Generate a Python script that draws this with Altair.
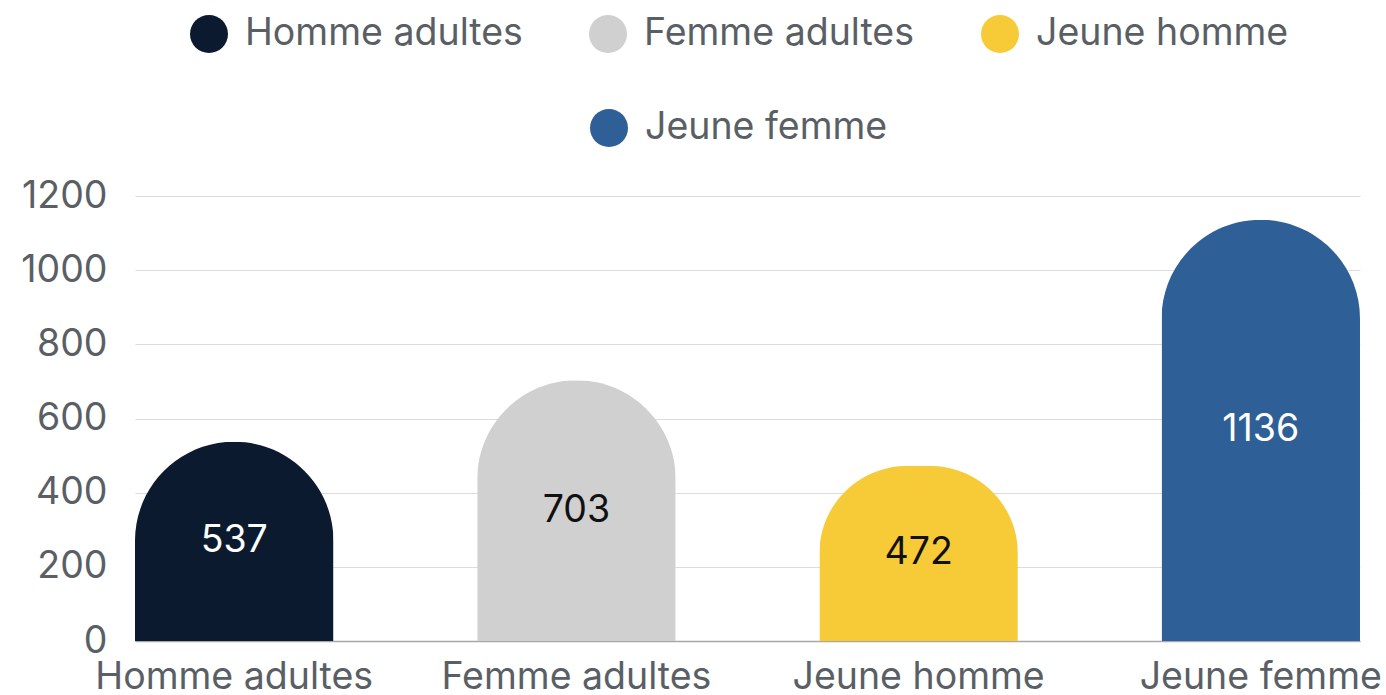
import altair as alt
import pandas as pd

categories = ["Homme adultes", "Femme adultes", "Jeune homme", "Jeune femme"]
values = [537, 703, 472, 1136]
colors = ["#0b1a2e", "#d0d0d0", "#f7cb37", "#2e5f97"]
legend_row1 = ["Homme adultes", "Femme adultes", "Jeune homme"]
legend_row2 = ["Jeune femme"]
dark_bars = ["Homme adultes", "Jeune femme"]
y_ticks = [0, 200, 400, 600, 800, 1000, 1200]

df = pd.DataFrame({"cat": categories, "val": values})

FONT = "Inter"
GRAY = "#5a5f66"
FS = 37.5

x_enc = alt.X(
    "cat:N",
    sort=categories,
    scale=alt.Scale(domain=categories, paddingInner=0.42, paddingOuter=0),
    axis=alt.Axis(
        title=None, labelAngle=0, labelFontSize=FS, labelColor=GRAY, labelFont=FONT,
        ticks=False, labelPadding=17, domainColor="#a8a8a8", domainWidth=1.5,
        labelLimit=400, labelOverlap=False,
    ),
)
y_enc = alt.Y(
    "val:Q",
    scale=alt.Scale(domain=[0, 1200], nice=False),
    axis=alt.Axis(
        title=None, values=y_ticks, format="d", labelFontSize=FS, labelColor=GRAY,
        labelFont=FONT, ticks=False, tickSize=0, domain=False, labelPadding=28,
        gridColor="#dcdcdc", gridWidth=1,
    ),
)

def legend(xpos, ypos):
    return alt.Legend(
        title=None, orient="none", legendX=xpos, legendY=ypos, direction="horizontal",
        symbolType="circle", symbolSize=1444, symbolStrokeWidth=0, labelFontSize=FS,
        labelColor=GRAY, labelFont=FONT, labelOffset=17, columnPadding=66,
        labelLimit=400, padding=0,
    )

bars1 = alt.Chart(df).transform_filter(
    alt.FieldOneOfPredicate(field="cat", oneOf=legend_row1)
).mark_bar(cornerRadiusTopLeft=99, cornerRadiusTopRight=99).encode(
    x=x_enc, y=y_enc,
    color=alt.Color("cat:N", scale=alt.Scale(domain=legend_row1, range=colors[:3]),
                    legend=legend(55, -181)),
)

bars2 = alt.Chart(df).transform_filter(
    alt.FieldOneOfPredicate(field="cat", oneOf=legend_row2)
).mark_bar(cornerRadiusTopLeft=99, cornerRadiusTopRight=99).encode(
    x=x_enc, y=y_enc,
    color=alt.Color("cat:N", scale=alt.Scale(domain=legend_row2, range=colors[3:]),
                    legend=legend(455, -87)),
)

labels = alt.Chart(df).transform_calculate(mid="datum.val / 2").mark_text(
    fontSize=FS, font=FONT, baseline="middle", align="center"
).encode(
    x=alt.X("cat:N", sort=categories),
    y=alt.Y("mid:Q"),
    text=alt.Text("val:Q"),
    color=alt.condition(
        alt.FieldOneOfPredicate(field="cat", oneOf=dark_bars),
        alt.value("#ffffff"), alt.value("#111111"),
    ),
)

chart = alt.layer(bars1, bars2, labels).resolve_scale(color="independent").properties(
    width=1225, height=445,
    autosize=alt.AutoSizeParams(type="none"),
    padding={"left": 135, "top": 196, "right": 26, "bottom": 54},
    background="white",
).configure_view(stroke=None)

chart.save("out.html", embed_options={"renderer": "svg", "actions": False})
